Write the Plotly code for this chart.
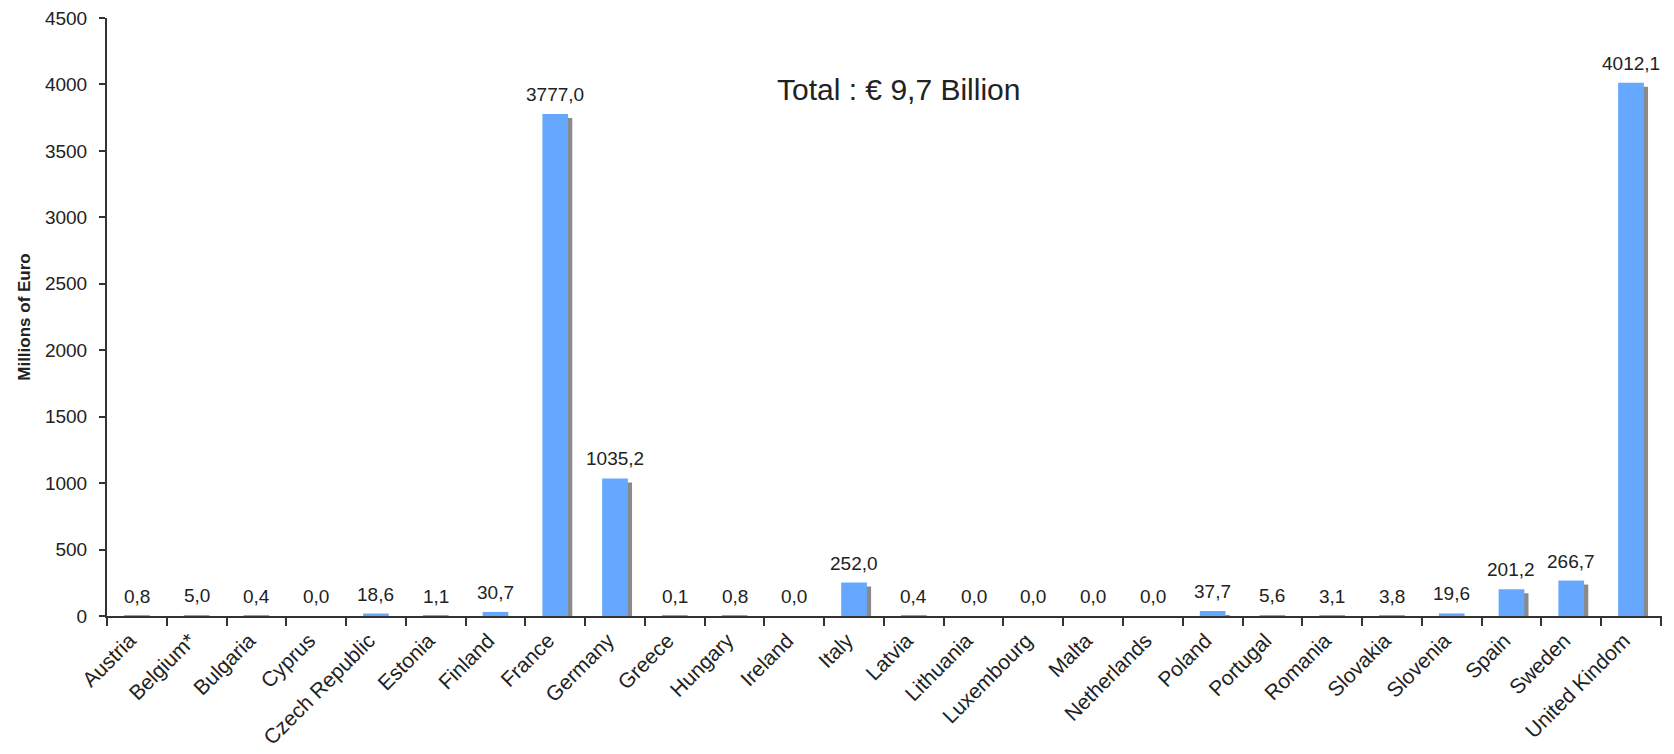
import plotly.graph_objects as go

countries = ["Austria", "Belgium*", "Bulgaria", "Cyprus", "Czech Republic", "Estonia",
             "Finland", "France", "Germany", "Greece", "Hungary", "Ireland", "Italy",
             "Latvia", "Lithuania", "Luxembourg", "Malta", "Netherlands", "Poland",
             "Portugal", "Romania", "Slovakia", "Slovenia", "Spain", "Sweden", "United Kindom"]
values = [0.8, 5.0, 0.4, 0.0, 18.6, 1.1, 30.7, 3777.0, 1035.2, 0.1, 0.8, 0.0, 252.0,
          0.4, 0.0, 0.0, 0.0, 0.0, 37.7, 5.6, 3.1, 3.8, 19.6, 201.2, 266.7, 4012.1]
y_ticks = [0, 500, 1000, 1500, 2000, 2500, 3000, 3500, 4000, 4500]
title_text = "Total : € 9,7 Billion"
y_title = "Millions of Euro"

labels = [f"{v:.1f}".replace(".", ",") for v in values]

FONT = "Arial, Liberation Sans, Helvetica, sans-serif"
BAR_W = 0.43
SHADOW_DX = 0.07
SHADOW_DROP = 30
TXT = "#222222"
AX = "#333333"

fig = go.Figure()
fig.add_trace(go.Bar(
    x=countries, y=values, base=-SHADOW_DROP, width=BAR_W, offset=-BAR_W / 2 + SHADOW_DX,
    marker=dict(color="#8a8a8a", line=dict(width=0)), hoverinfo="skip", showlegend=False))
fig.add_trace(go.Bar(
    x=countries, y=values, width=BAR_W, offset=-BAR_W / 2,
    marker=dict(color="#66A8FF", line=dict(width=0)), showlegend=False))

for c, v, t in zip(countries, values, labels):
    fig.add_annotation(x=c, y=v, text=t, showarrow=False, yanchor="bottom", yshift=7,
                       font=dict(family=FONT, size=19, color=TXT))

fig.add_annotation(xref="paper", yref="paper", x=0.509, y=0.881, text=title_text,
                   showarrow=False, xanchor="center", yanchor="middle",
                   font=dict(family=FONT, size=30, color=TXT))

fig.update_layout(
    width=1674, height=754, barmode="overlay",
    paper_bgcolor="white", plot_bgcolor="white",
    margin=dict(l=99, r=20, t=10, b=146),
    font=dict(family=FONT, color=TXT),
)
fig.update_xaxes(
    type="category", automargin=False, showgrid=False, showline=True, linecolor=AX,
    linewidth=2, ticks="outside", tickson="boundaries", ticklen=8, tickwidth=2,
    tickcolor=AX, tickangle=-45, ticklabelshift=-7, ticklabelstandoff=2,
    tickfont=dict(family=FONT, size=21, color=TXT))
fig.update_yaxes(
    automargin=False, range=[0, 4500], tickvals=y_ticks, showgrid=False, zeroline=False,
    showline=True, linecolor=AX, linewidth=2, ticks="outside", ticklen=6, tickwidth=2,
    tickcolor=AX, ticklabelstandoff=8, ticklabeloverflow="allow",
    tickfont=dict(family=FONT, size=19, color=TXT),
    title=dict(text=f"<b>{y_title}</b>", font=dict(family=FONT, size=17, color=TXT), standoff=10))

fig.write_html("out.html")
